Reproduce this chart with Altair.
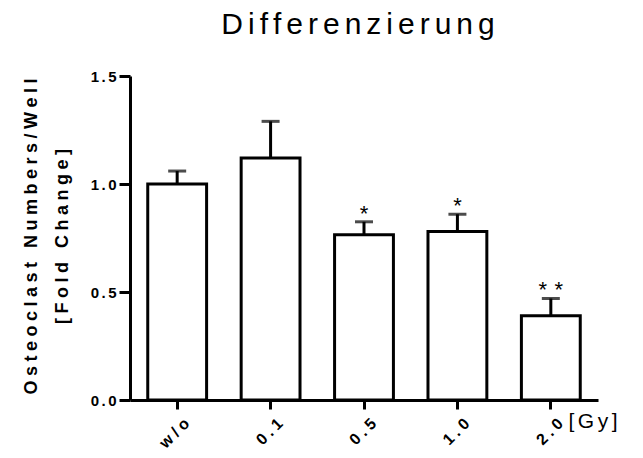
import altair as alt
import pandas as pd

categories = ["w/o", "0.1", "0.5", "1.0", "2.0"]
means = [1.0, 1.12, 0.765, 0.78, 0.39]
upper = [1.06, 1.29, 0.825, 0.86, 0.47]
signif = ["", "", "*", "*", "*\u2004*"]
tick_values = [0, 0.5, 1.0, 1.5]

df = pd.DataFrame({"cat": categories, "mean": means, "upper": upper, "sig": signif})

FONT = "Liberation Sans"
S4 = "\u2005"  # four-per-em space
S6 = "\u2006"  # six-per-em space


def spaced(s, sep):
    return sep.join(list(s))


ytitle = [spaced("Osteoclast Numbers/Well", S4), spaced("[Fold Change]", S4)]

xenc = alt.X(
    "cat:N", sort=categories,
    scale=alt.Scale(paddingInner=0.37, paddingOuter=0.19),
    axis=alt.Axis(
        title=spaced("[Gy]", S6), titleFont=FONT, titleFontWeight="normal", titleFontSize=21,
        titleColor="black",
        titleX=438, titleY=27, titleAlign="left", titleBaseline="alphabetic",
        labelAngle=-45, labelFont=FONT, labelFontWeight="bold", labelFontSize=16,
        labelExpr="join(split(datum.label, ''), '\u2005')",
        labelColor="black", domainColor="black", domainWidth=3,
        tickColor="black", tickWidth=3, tickSize=9, labelPadding=6, labelOffset=4,
    ),
)

yscale = alt.Scale(domain=[0, 1.5], nice=False)
yaxis = alt.Axis(
    title=ytitle, titleFont=FONT, titleFontWeight="bold", titleFontSize=18,
    titleColor="black", titleLineHeight=31,
    titleX=-94, titleY=160, titleBaseline="alphabetic", titleAlign="center", titleAngle=270,
    values=tick_values, format=".1f", grid=False,
    labelFont=FONT, labelFontWeight="bold", labelFontSize=15, labelColor="black",
    labelExpr="join(split(datum.label, ''), '\u2006')", labelPadding=3,
    domainColor="black", domainWidth=3, tickColor="black", tickWidth=3, tickSize=11,
)

base = alt.Chart(df)

bars = base.mark_bar(fill="white", stroke="black", strokeWidth=3).encode(
    x=xenc, y=alt.Y("mean:Q", scale=yscale, axis=yaxis)
)
rules = base.mark_rule(color="black", strokeWidth=3).encode(
    x=alt.X("cat:N", sort=categories), y="mean:Q", y2="upper:Q"
)
caps = base.mark_tick(color="black", size=18, thickness=3, orient="horizontal").encode(
    x=alt.X("cat:N", sort=categories), y="upper:Q"
)
stars = base.mark_text(font=FONT, fontSize=22, baseline="alphabetic", dy=-1, color="black").encode(
    x=alt.X("cat:N", sort=categories), y="upper:Q", text="sig:N"
)

chart = alt.layer(bars, rules, caps, stars).properties(
    width=468, height=324,
    background="white",
    autosize=alt.AutoSizeParams(type="none"),
    padding={"left": 122, "top": 68, "right": 37, "bottom": 52},
    title=alt.TitleParams(spaced("Differenzierung", S6), font=FONT, fontSize=30, fontWeight="normal",
                          color="black", anchor="middle", baseline="alphabetic",
                          offset=5, dx=-6),
).configure_view(strokeWidth=0)

chart.save("out.html", embed_options={"renderer": "svg", "actions": False})
